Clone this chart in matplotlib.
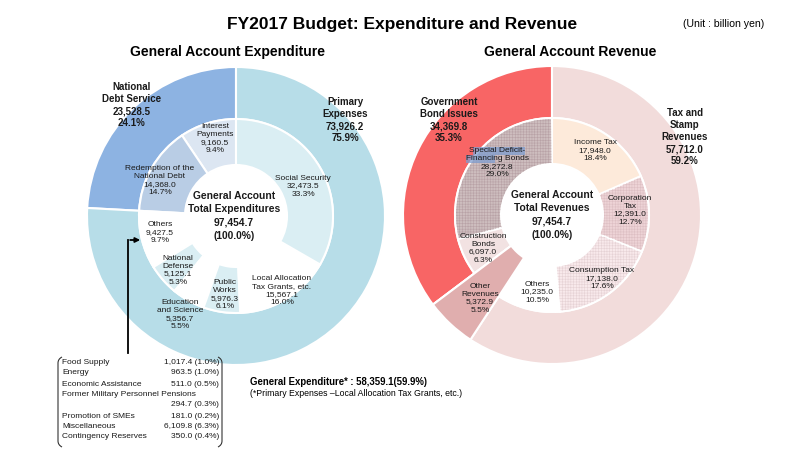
import matplotlib
matplotlib.use('Agg')
import matplotlib.pyplot as plt
from matplotlib.patches import Wedge, Rectangle, PathPatch
from matplotlib.path import Path

plt.rcParams['font.family'] = ['Liberation Sans', 'DejaVu Sans']
plt.rcParams['hatch.linewidth'] = 0.4

# ---------------- data (billion yen) ----------------
exp_outer_labels = ['National\nDebt Service', 'Primary\nExpenses']
exp_outer_values = [23528.5, 73926.2]
exp_outer_pct = [24.1, 75.9]

exp_inner_labels = ['Interest\nPayments', 'Redemption of the\nNational Debt', 'Others',
                    'National\nDefense', 'Education\nand Science', 'Public\nWorks',
                    'Local Allocation\nTax Grants, etc.', 'Social Security']
exp_inner_values = [9160.5, 14368.0, 9427.5, 5125.1, 5356.7, 5976.3, 15567.1, 32473.5]
exp_inner_pct = [9.4, 14.7, 9.7, 5.3, 5.5, 6.1, 16.0, 33.3]

rev_outer_labels = ['Government\nBond Issues', 'Other\nRevenues', 'Tax and\nStamp\nRevenues']
rev_outer_values = [34369.8, 5372.9, 57712.0]
rev_outer_pct = [35.3, 5.5, 59.2]

rev_inner_labels = ['Special Deficit-\nFinancing Bonds', 'Construction\nBonds', 'Other\nRevenues',
                    'Others', 'Consumption Tax', 'Corporation\nTax', 'Income Tax']
rev_inner_values = [28272.8, 6097.0, 5372.9, 10235.0, 17138.0, 12391.0, 17948.0]
rev_inner_pct = [29.0, 6.3, 5.5, 10.5, 17.6, 12.7, 18.4]

total = 97454.7

other_items = ['Food Supply', 'Energy', 'Economic Assistance', 'Former Military Personnel Pensions',
               'Promotion of SMEs', 'Miscellaneous', 'Contingency Reserves']
other_values = [1017.4, 963.5, 511.0, 294.7, 181.0, 6109.8, 350.0]
other_pct = [1.0, 1.0, 0.5, 0.3, 0.2, 6.3, 0.4]

general_exp = 58359.1
general_pct = 59.9

# ---------------- colours ----------------
exp_outer_colors = ['#8DB3E2', '#B7DDE8']
exp_inner_colors = ['#DCE6F2', '#B9CDE5', 'white', '#DAEEF3', 'white', '#DAEEF3', 'white', '#DAEEF3']
rev_outer_colors = ['#F86565', '#E0AEAE', '#F2DCDB']
rev_inner_colors = ['#CDBDBE', '#F2E2E2', '#E0AEAE', 'white', '#F8E9EB', '#EDD3D6', '#FDEADA']
rev_inner_hatch = ['#B8A2A6', None, None, None, '#E6D2D5', '#DDBFC3', None]

# ---------------- layout (pixels) ----------------
W, H = 800, 449
def py(y):
    return H - y

R_OUT, R_MID, R_IN = 149, 97, 51
c_exp = (236, py(216))
c_rev = (552, py(215))

fig = plt.figure(figsize=(8, 4.49), dpi=100)
ax = fig.add_axes([0, 0, 1, 1])

wp = dict(edgecolor='white', linewidth=1.5)

# expenditure donut
ax.pie(exp_outer_values, colors=exp_outer_colors, startangle=90, counterclock=True,
       radius=R_OUT, center=c_exp, wedgeprops=dict(width=R_OUT - R_MID, **wp))
ax.pie(exp_inner_values, colors=exp_inner_colors, startangle=90, counterclock=True,
       radius=R_MID, center=c_exp, wedgeprops=dict(width=R_MID - R_IN, **wp))

# revenue donut
w_out, _ = ax.pie(rev_outer_values, colors=rev_outer_colors, startangle=90, counterclock=True,
                  radius=R_OUT, center=c_rev, wedgeprops=dict(width=R_OUT - R_MID, **wp))
w_in, _ = ax.pie(rev_inner_values, colors=rev_inner_colors, startangle=90, counterclock=True,
                 radius=R_MID, center=c_rev, wedgeprops=dict(width=R_MID - R_IN, **wp))
for w, hc in zip(w_in, rev_inner_hatch):
    if hc:
        ax.add_patch(Wedge(w.center, w.r - 1, w.theta1 + 0.6, w.theta2 - 0.6, width=w.width - 2,
                           facecolor='none', edgecolor=hc, linewidth=0,
                           hatch='++++++', zorder=w.get_zorder() + 0.1))
# "Other Revenues" runs through both rings
wo = w_out[1]
ax.add_patch(Wedge(wo.center, R_OUT, wo.theta1, wo.theta2, width=R_OUT - R_IN,
                   facecolor=rev_outer_colors[1], **wp, zorder=wo.get_zorder() + 0.2))

ax.set_xlim(0, W)
ax.set_ylim(0, H)
ax.set_aspect('equal', adjustable='box')
ax.axis('off')


def lab(x, y, s, size=6, bold=False, ls=1.2, **kw):
    ax.text(x, py(y), s, ha='center', va='center', fontsize=size,
            fontweight='bold' if bold else 'normal', linespacing=ls,
            color='#1a1a1a', zorder=10, **kw)


def fmt(name, v, p):
    return f'{name}\n{v:,.1f}\n{p:.1f}%'


# outer labels
exp_outer_pos = [(132, 105), (345, 120)]
for (x, y), n, v, p in zip(exp_outer_pos, exp_outer_labels, exp_outer_values, exp_outer_pct):
    lab(x, y, fmt(n, v, p), size=7, bold=True, ls=1.28)

rev_outer_pos = [(449, 120), (480, 298), (685, 137)]
for i, ((x, y), n, v, p) in enumerate(zip(rev_outer_pos, rev_outer_labels, rev_outer_values, rev_outer_pct)):
    if i == 1:
        lab(x, y, fmt(n, v, p))
    else:
        lab(x, y, fmt(n, v, p), size=7, bold=True, ls=1.28)

# inner labels
exp_inner_pos = [(215, 139), (160, 181), (160, 233), (178, 270), (180, 315),
                 (225, 295), (282, 291), (303, 186)]
for (x, y), n, v, p in zip(exp_inner_pos, exp_inner_labels, exp_inner_values, exp_inner_pct):
    lab(x, y, fmt(n, v, p))

rev_inner_pos = [(497, 163), (483, 248), None, (537, 292), (602, 279), (630, 210), (595, 151)]
for pos, n, v, p in zip(rev_inner_pos, rev_inner_labels, rev_inner_values, rev_inner_pct):
    if pos is not None:
        lab(pos[0], pos[1], fmt(n, v, p))

# text-selection highlight seen on the reference
ax.add_patch(Rectangle((473, py(155)), 52, 8, facecolor='#7F9ED0', alpha=0.75, lw=0, zorder=9))
ax.add_patch(Rectangle((466, py(163)), 29, 8, facecolor='#7F9ED0', alpha=0.75, lw=0, zorder=9))

# centre labels
lab(c_exp[0] - 2, 216, f'General Account\nTotal Expenditures\n{total:,.1f}\n(100.0%)',
    size=7.4, bold=True, ls=1.4)
lab(c_rev[0], 215, f'General Account\nTotal Revenues\n{total:,.1f}\n(100.0%)',
    size=7.4, bold=True, ls=1.4)

# titles
ax.text(402, py(29), 'FY2017 Budget: Expenditure and Revenue', ha='center', va='baseline',
        fontsize=12.5, fontweight='bold')
ax.text(764, py(27), '(Unit : billion yen)', ha='right', va='baseline', fontsize=7.6)
ax.text(227, py(52), 'General Account Expenditure', ha='center', va='center',
        fontsize=10, fontweight='bold')
ax.text(570, py(52), 'General Account Revenue', ha='center', va='center',
        fontsize=10, fontweight='bold')

# arrow from box to "Others"
ax.plot([128, 128], [py(353), py(240)], color='black', lw=1.3, zorder=11)
ax.annotate('', xy=(143, py(240)), xytext=(127.4, py(240)),
            arrowprops=dict(arrowstyle='-|>', color='black', lw=1.3, mutation_scale=7),
            zorder=11)

# breakdown of "Others"
row_y = [363, 373, 384, 394, 416, 427, 437]
for name, v, p, y in zip(other_items, other_values, other_pct, row_y):
    ax.text(62, py(y), name, ha='left', va='center', fontsize=6, color='#1a1a1a')
    vy = y + 11 if name.startswith('Former') else y
    ax.text(219, py(vy), f'{v:,.1f} ({p:.1f}%)', ha='right', va='center', fontsize=6,
            color='#1a1a1a')

# round brackets around the list
def bracket(x, y0, y1, d):
    verts = [(x + d, py(y0)), (x, py(y0 + 2)), (x, py(y0 + 6)),
             (x, py(y1 - 6)), (x, py(y1 - 2)), (x + d, py(y1))]
    codes = [Path.MOVETO, Path.CURVE3, Path.CURVE3, Path.LINETO, Path.CURVE3, Path.CURVE3]
    ax.add_patch(PathPatch(Path(verts, codes), facecolor='none', edgecolor='#333333', lw=0.8))

bracket(58, 357, 447, 4)
bracket(222, 357, 447, -4)

# general expenditure note
ax.text(250, py(382), f'General Expenditure* : {general_exp:,.1f}({general_pct:.1f}%)',
        ha='left', va='center', fontsize=6.9, fontweight='bold')
ax.text(250, py(393), '(*Primary Expenses \u2013Local Allocation Tax Grants, etc.)',
        ha='left', va='center', fontsize=6.3)

fig.savefig('out.png', dpi=100)
